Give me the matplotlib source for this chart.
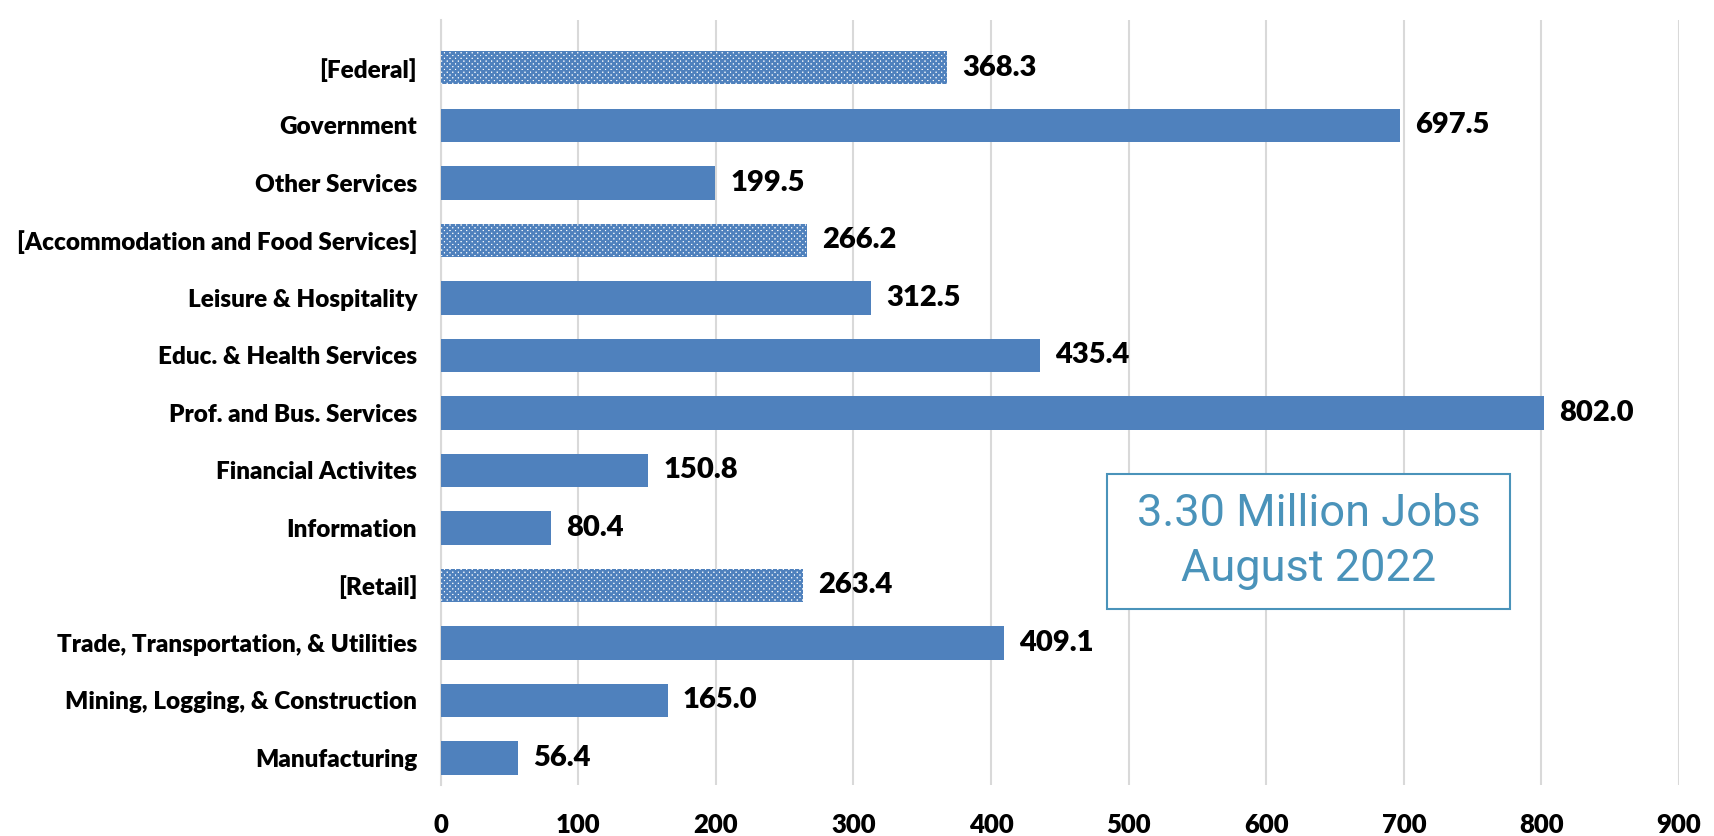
import matplotlib
matplotlib.use("Agg")
import matplotlib.pyplot as plt
from matplotlib.patches import Rectangle

categories = [
    "Manufacturing",
    "Mining, Logging, & Construction",
    "Trade, Transportation, & Utilities",
    "[Retail]",
    "Information",
    "Financial Activites",
    "Prof. and Bus. Services",
    "Educ. & Health Services",
    "Leisure & Hospitality",
    "[Accommodation and Food Services]",
    "Other Services",
    "Government",
    "[Federal]",
]
values = [56.4, 165.0, 409.1, 263.4, 80.4, 150.8, 802.0, 435.4, 312.5, 266.2, 199.5, 697.5, 368.3]
subsectors = ["[Retail]", "[Accommodation and Food Services]", "[Federal]"]
xticks = [0, 100, 200, 300, 400, 500, 600, 700, 800, 900]
note_lines = ["3.30 Million Jobs", "August 2022"]

BLUE = "#4F81BD"
NOTE = "#4A93BA"
plt.rcParams["font.family"] = ["Lato", "DejaVu Sans"]
plt.rcParams["hatch.linewidth"] = 1.8
plt.rcParams["hatch.color"] = BLUE

fig = plt.figure(figsize=(17.15, 8.36), dpi=100)
ax = fig.add_axes([0.257, 0.061, 0.722, 0.915])

ypos = list(range(len(categories)))
for y, cat, v in zip(ypos, categories, values):
    if cat in subsectors:
        ax.barh(y, v, height=0.58, color="white", edgecolor=BLUE, hatch="xxxxxx",
                linewidth=0, zorder=3)
    else:
        ax.barh(y, v, height=0.58, color=BLUE, linewidth=0, zorder=3)
    ax.text(v + 11, y, f"{v:.1f}", va="center", ha="left", fontsize=21,
            fontweight="heavy", color="black", zorder=4)

ax.set_xlim(0, 900)
ax.set_ylim(-0.47, 12.83)
ax.set_xticks(xticks)
ax.set_xticklabels([str(t) for t in xticks], fontsize=18.5, fontweight="heavy")
ax.set_yticks(ypos)
ax.set_yticklabels(categories, fontsize=17.5, fontweight="heavy")
ax.tick_params(axis="both", length=0)
ax.tick_params(axis="y", pad=17)
ax.tick_params(axis="x", pad=20)

ax.grid(axis="x", color="#D9D9D9", linewidth=1.5, zorder=0)
ax.set_axisbelow(True)
for side in ["top", "right", "bottom"]:
    ax.spines[side].set_visible(False)
ax.spines["left"].set_color("#D9D9D9")
ax.spines["left"].set_linewidth(1.5)

# annotation box with total jobs
ax.add_patch(Rectangle((0.538, 0.230), 0.3255, 0.1765, transform=ax.transAxes,
                       facecolor="white", edgecolor=NOTE, linewidth=1.5, zorder=5))
for line, yy in zip(note_lines, [0.354, 0.282]):
    ax.text(0.7008, yy, line, transform=ax.transAxes, ha="center", va="center",
            fontsize=32.5, color=NOTE, family=["Roboto", "DejaVu Sans"], zorder=6)

fig.savefig("out.png", dpi=100)
